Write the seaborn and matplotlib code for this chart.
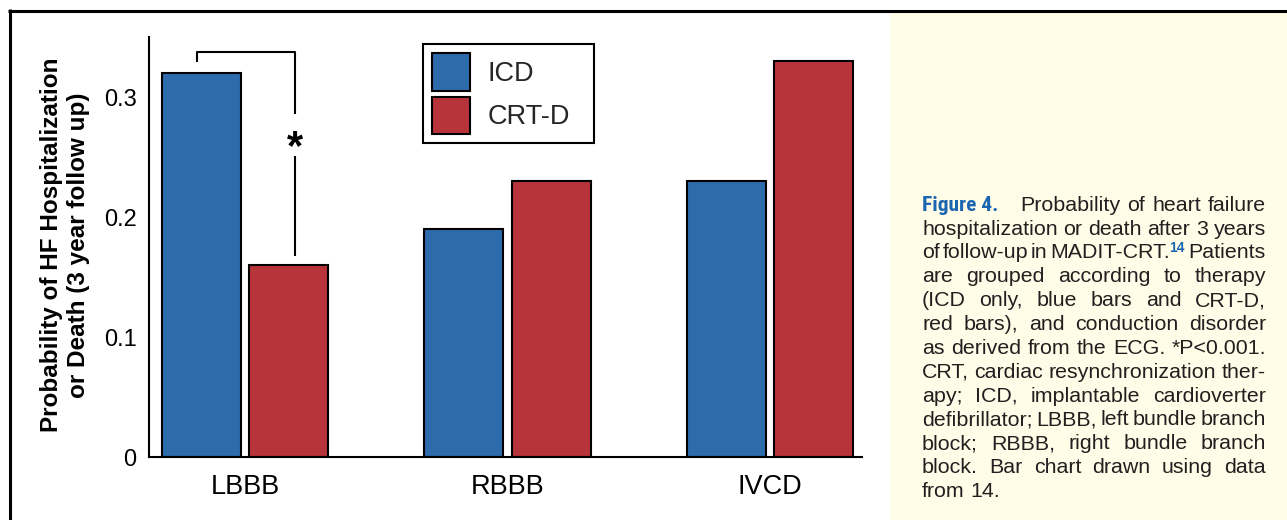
import matplotlib
matplotlib.use("Agg")
import matplotlib.pyplot as plt
from matplotlib.patches import Patch, Rectangle
from matplotlib.lines import Line2D
import pandas as pd
import seaborn as sns

# ---- data -------------------------------------------------------------
groups = ["LBBB", "RBBB", "IVCD"]
therapies = ["ICD", "CRT-D"]
icd_prob = [0.32, 0.19, 0.23]
crtd_prob = [0.16, 0.23, 0.33]
y_ticks = [0, 0.1, 0.2, 0.3]
y_tick_labels = ["0", "0.1", "0.2", "0.3"]
y_minor_ticks = [0.05, 0.15, 0.25, 0.35]
y_label = "Probability of HF Hospitalization\nor Death (3 year follow up)"
sig_mark = "*"

caption_head = "Figure 4."
caption_ref = "14"
caption_lines = [
    "Probability of heart failure",
    "hospitalization or death after 3 years",
    "of follow-up in MADIT-CRT.{ref} Patients",
    "are grouped according to therapy",
    "(ICD only, blue bars and CRT-D,",
    "red bars), and conduction disorder",
    "as derived from the ECG. *P<0.001.",
    "CRT, cardiac resynchronization ther-",
    "apy; ICD, implantable cardioverter",
    "defibrillator; LBBB, left bundle branch",
    "block; RBBB, right bundle branch",
    "block. Bar chart drawn using data",
    "from 14.",
]

# ---- style ------------------------------------------------------------
BLUE = "#2D6BAD"
RED = "#B7353A"
PANEL = "#FFFDE7"
INK = "#231F20"
HEAD_BLUE = "#1A66B0"
LW = 1.5

sns.set_style("white")
plt.rcParams["font.family"] = ["Liberation Sans", "DejaVu Sans"]

W, H = 1287, 520
fig = plt.figure(figsize=(W / 100, H / 100), dpi=100)
fig.patch.set_facecolor("white")


def fx(px):
    return px / W


def fy(py):
    return 1 - py / H


# caption panel background and outer frame
fig.add_artist(Rectangle((fx(890), 0), 1 - fx(890), fy(12), transform=fig.transFigure,
                         facecolor=PANEL, edgecolor="none", zorder=0))
fig.add_artist(Line2D([fx(8), 1], [fy(10.5), fy(10.5)], transform=fig.transFigure,
                      color="black", lw=2.2, solid_capstyle="butt"))
fig.add_artist(Line2D([fx(9.5), fx(9.5)], [fy(9), 0], transform=fig.transFigure,
                      color="black", lw=2.2, solid_capstyle="butt"))

# ---- bar chart --------------------------------------------------------
ax = fig.add_axes([fx(149), (H - 457) / H, (862 - 149) / W, 420 / H])
ax.set_facecolor("white")

df = pd.DataFrame({
    "group": groups * 2,
    "therapy": [therapies[0]] * len(groups) + [therapies[1]] * len(groups),
    "prob": icd_prob + crtd_prob,
})
sns.barplot(data=df, x="group", y="prob", hue="therapy", order=groups,
            hue_order=therapies, palette=[BLUE, RED], saturation=1,
            width=2 / 3, gap=0.1, edgecolor="black", linewidth=LW,
            errorbar=None, legend=False, ax=ax)

x_lo, x_hi = -0.366, 2.35
ax.set_xlim(x_lo, x_hi)
ax.set_ylim(0, 0.35)
ax.set_xlabel("")
ax.set_ylabel("")

ax.set_xticks(range(len(groups)))
ax.set_xticklabels(groups, fontsize=19.5)
ax.set_xticks([x_lo, 1 / 3, 2 / 3, 4 / 3, 5 / 3, 7 / 3], minor=True)
ax.set_yticks(y_ticks)
ax.set_yticklabels(y_tick_labels, fontsize=17)
ax.set_yticks(y_minor_ticks, minor=True)
ax.tick_params(axis="both", which="both", direction="out", length=5, width=LW,
               color="black", labelcolor="black")
ax.tick_params(axis="x", which="major", pad=7)
ax.tick_params(axis="y", which="major", pad=4)
sns.despine(ax=ax)
for side in ("left", "bottom"):
    ax.spines[side].set_linewidth(LW)
    ax.spines[side].set_color("black")

# significance bracket between the LBBB bars
x_left = -1 / 6 - 0.017
x_right = 1 / 6 + 0.023
top = icd_prob[0] + 0.0175
ax.plot([x_left, x_left, x_right, x_right], [top - 0.0085, top, top, 0.286],
        color="black", lw=LW, solid_capstyle="butt", clip_on=False)
ax.plot([x_right, x_right], [0.251, crtd_prob[0] + 0.0075],
        color="black", lw=LW, solid_capstyle="butt", clip_on=False)
ax.text(x_right, 0.2575, sig_mark, ha="center", va="center", fontsize=30,
        fontweight="bold", color="black")

# legend, stretched to a fixed box width
handles = [Patch(facecolor=c, edgecolor="black", linewidth=LW) for c in (BLUE, RED)]
leg = ax.legend(handles, therapies, loc="upper left", mode="expand",
                bbox_to_anchor=(fx(423), fy(142), fx(594) - fx(423), fy(44) - fy(142)),
                bbox_transform=fig.transFigure,
                fontsize=19.5, frameon=True, fancybox=False, shadow=False,
                framealpha=1, edgecolor="black", borderpad=0.35,
                handlelength=1.4, handleheight=1.73, labelspacing=0.22,
                handletextpad=0.65, borderaxespad=0)
leg.get_frame().set_linewidth(LW)

# y axis title
fig.text(fx(65), fy(245), y_label, rotation=90, ha="center", va="center",
         fontsize=17.5, fontweight="bold", linespacing=1.2,
         multialignment="center", color="black")

# ---- caption ----------------------------------------------------------
renderer = fig.canvas.get_renderer()
BODY = dict(fontsize=15.4, color=INK, family=["Liberation Sans", "DejaVu Sans"])
HEAD = dict(fontsize=15.4, color=HEAD_BLUE, fontweight="bold", fontstretch="condensed",
            family=["Roboto Condensed", "Liberation Sans Narrow", "DejaVu Sans"])
SUP = dict(fontsize=10, color=HEAD_BLUE, fontweight="bold",
           family=["Liberation Sans", "DejaVu Sans"])

CAP_X0, CAP_X1 = 922, 1266
BASE0, PITCH = 210.7, 23.86


def build_token(segments):
    placed, width = [], 0.0
    for s, props, dy in segments:
        t = fig.text(0, 0, s, ha="left", va="baseline", **props)
        placed.append((t, width, dy))
        width += t.get_window_extent(renderer).width + (1 if dy else 0)
    return placed, width


def word_segments(word):
    if "{ref}" in word:
        return [(word.replace("{ref}", ""), BODY, 0), (caption_ref, SUP, 6)]
    return [(word, BODY, 0)]


def place_line(words, x_start, x_end, baseline, justify):
    built = [build_token(word_segments(w)) for w in words]
    total = sum(w for _, w in built)
    if justify and len(built) > 1:
        gap = (x_end - x_start - total) / (len(built) - 1)
    else:
        gap = 5.5
    x = x_start
    for placed, w in built:
        for t, off, dy in placed:
            t.set_position((fx(x + off), fy(baseline - dy)))
        x += w + gap


for i, line in enumerate(caption_lines):
    baseline = BASE0 + i * PITCH
    start = CAP_X0
    if i == 0:
        head, hw = build_token([(caption_head, HEAD, 0)])
        for t, off, dy in head:
            t.set_position((fx(CAP_X0 + off), fy(baseline)))
        start = CAP_X0 + hw + 22
    place_line(line.split(" "), start, CAP_X1, baseline,
               justify=(i < len(caption_lines) - 1))

fig.savefig("out.png", dpi=100, facecolor="white")
